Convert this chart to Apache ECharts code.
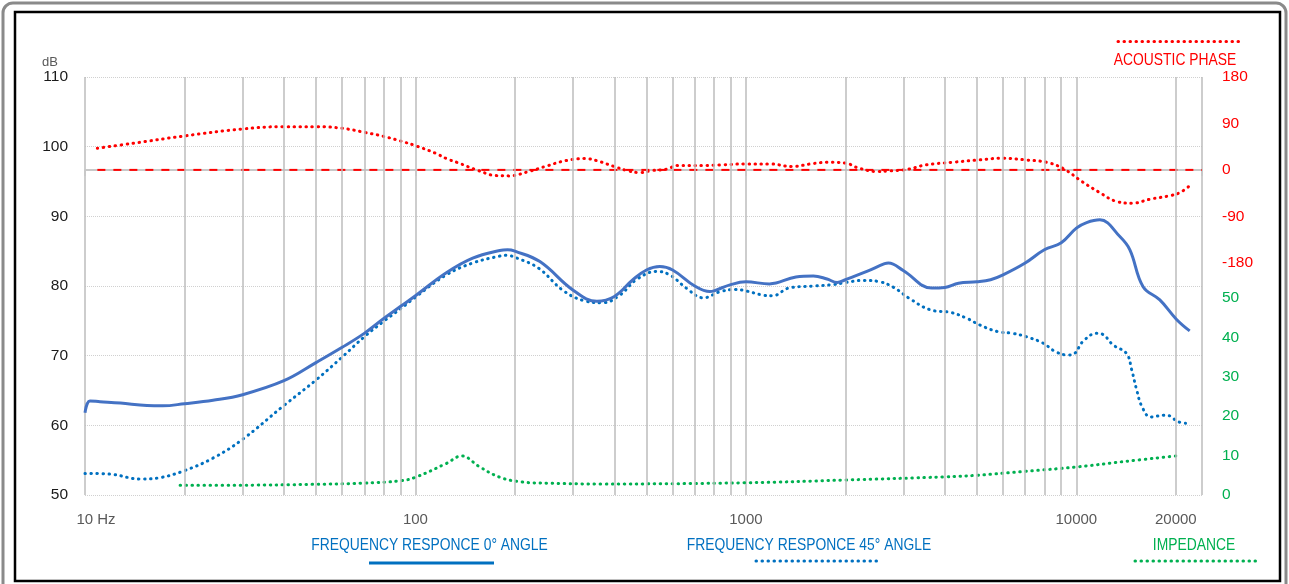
<!DOCTYPE html>
<html><head><meta charset="utf-8">
<script src="https://cdn.jsdelivr.net/npm/echarts@6/dist/echarts.min.js"></script>
<style>html,body{margin:0;padding:0;background:#fff}#c{width:1289px;height:584px}</style>
</head><body><div id="c"></div>
<script>
const NUM_FONT = "'Liberation Sans', Arial, sans-serif";
const TXT_FONT = "'Liberation Sans', Arial, sans-serif";

const xLabelValues = [10, 100, 1000, 10000, 20000];
const minorGridFreqs = [20,30,40,50,60,70,80,90,200,300,400,500,600,700,800,900,2000,3000,4000,5000,6000,7000,8000,9000,20000];

const fr0Freq = [10,10.35,11.1,12.8,15.4,17.2,20,24.4,30,40,50,60,70,80,90,100,124,149,180,190,200,238,300,354,400,455,500,549,600,700,778,800,900,1000,1178,1417,1600,1760,1890,2000,2323,2629,2700,3000,3650,4000,4400,5000,5500,6000,7000,8000,9000,10000,10740,11780,13540,14520,15920,17890,20100,22030];
const fr0Db = [61.8,63.5,63.4,63.2,62.85,62.8,63.1,63.6,64.4,66.4,69.0,71.2,73.2,75.3,77.05,78.6,81.9,84.0,85.1,85.2,85.0,83.5,79.4,77.8,78.5,80.9,82.3,82.8,82.3,80.0,79.2,79.3,80.2,80.6,80.3,81.3,81.45,81.0,80.5,80.9,82.1,83.2,83.3,82.2,79.7,79.8,80.4,80.6,80.9,81.6,83.3,85.2,86.2,88.3,89.1,89.5,87.1,85.2,79.9,78.0,75.2,73.55];

const fr45Freq = [10,11.9,14.7,16.9,20,24.4,30,40,50,60,70,80,90,100,124,149,180,189,203,236,279,323,369,416,466,536,588,660,743,838,934,1000,1125,1207,1346,1600,1835,2000,2260,2545,2800,3128,3602,4167,4643,5105,5771,6420,7076,7933,8630,9393,9867,10450,11500,11960,12910,14190,14700,15220,15790,16770,18500,19400,20100,21400];
const fr45Db = [53.1,53.0,52.3,52.5,53.5,55.3,58.0,62.85,66.5,69.8,72.7,74.9,76.7,78.4,81.6,83.3,84.3,84.4,84.0,82.55,79.4,77.9,77.6,78.7,80.9,82.1,81.6,79.7,78.3,79.2,79.5,79.3,78.7,78.6,79.7,80.0,80.2,80.5,80.8,80.6,79.8,78.2,76.6,76.2,75.4,74.4,73.46,73.2,72.7,71.8,70.6,70.1,70.3,72.0,73.2,73.1,71.55,70.3,68.0,65.1,62.7,61.2,61.45,61.26,60.6,60.3];

const phaseFreq = [10.9,14,20,30,40,50,60,70,80,90,100,115,124,134,155,175,192,220,250,285,326,353,400,437,478,520,575,620,740,840,1010,1180,1380,1570,1770,2010,2200,2500,2730,3100,3500,4230,5100,5950,7000,8200,9200,10400,11700,13200,14800,16700,19300,20600,22000];
const phaseDeg = [42,51.6,65.8,79.3,83.8,83.8,80.6,72.9,65.1,56.1,47,32.3,22,14.2,-1.3,-11,-11.6,-3.2,7.7,18,21.9,18,6.4,-1.3,-5.2,-1.3,1.3,8.4,8.4,9.7,11.6,11.6,6.4,11.6,14.8,12.9,3.2,-3.2,-1.9,1.3,9.7,14.8,19.4,22.6,19.4,14.2,1.3,-22.6,-43,-61,-64.5,-56.8,-49.7,-43.9,-31];

const phaseRefFreq = [10.9, 24000];
const phaseRefDeg = [0, 0];

const impFreq = [19.4,30,49,69,90,100,124,138,156,180,210,250,362,1000,2000,4000,5000,7000,10000,14000,20000];
const impOhm = [2.5,2.5,2.7,3.0,3.6,4.5,8.0,9.9,7.2,4.5,3.3,3.0,2.8,3.1,3.8,4.6,5.0,6.0,7.1,8.5,9.9];

const zip = (a, b) => a.map((v, i) => [v, b[i]]);
const dots = (c) => ({ color: c, width: 3, type: [0.5, 5.5], cap: 'round' });
const legendText = (x, y, text, color) => ({
  type: 'text', x: x, y: y, scaleX: 0.84,
  style: { text: text, fill: color, font: '16.5px ' + TXT_FONT, align: 'center', verticalAlign: 'middle' }
});

const chart = echarts.init(document.getElementById('c'));
chart.setOption({
  backgroundColor: '#fff',
  animation: false,
  grid: { left: 85, right: 87, top: 77, bottom: 89 },
  xAxis: {
    type: 'log', logBase: 10, min: 10, max: 24000,
    axisLine: { show: true, lineStyle: { color: '#c8c8c8', width: 2 } },
    axisTick: { show: true, length: 6, lineStyle: { color: '#c8c8c8', width: 2 } },
    axisLabel: {
      customValues: xLabelValues,
      margin: 17, color: '#595959', fontFamily: NUM_FONT, fontSize: 15,
      formatter: v => v === 10 ? '{h|10 Hz}' : String(v),
      rich: { h: { padding: [0, 0, 0, 22], color: '#595959', fontFamily: NUM_FONT, fontSize: 15 } }
    },
    splitLine: { show: true, lineStyle: { color: '#bdbdbd', width: 1.5 } }
  },
  yAxis: [
    {
      type: 'value', min: 50, max: 110, interval: 10, position: 'left',
      name: 'dB', nameLocation: 'end', nameGap: 8,
      nameTextStyle: { color: '#595959', fontFamily: NUM_FONT, fontSize: 13, align: 'right', padding: [0, 27, 0, 0] },
      axisLine: { show: false }, axisTick: { show: false },
      axisLabel: { margin: 17, color: '#1a1a1a', fontFamily: NUM_FONT, fontSize: 15.5 },
      splitLine: { show: true, lineStyle: { color: '#d0d0d0', width: 1, type: [1, 1] } }
    },
    {
      type: 'value', min: -630, max: 180, interval: 90, position: 'right',
      axisLine: { show: false }, axisTick: { show: false }, splitLine: { show: false },
      axisLabel: { margin: 20, color: '#ff0000', fontFamily: NUM_FONT, fontSize: 15.5,
        formatter: v => (v >= -180 ? String(v) : '') }
    },
    {
      type: 'value', min: 0, max: 106, interval: 10, position: 'right',
      axisLine: { show: false }, axisTick: { show: false }, splitLine: { show: false },
      axisLabel: { margin: 20, color: '#00b050', fontFamily: NUM_FONT, fontSize: 15.5,
        formatter: v => (v <= 50 ? String(v) : '') }
    }
  ],
  series: [
    {
      name: 'grid', type: 'line', z: 1, silent: true, showSymbol: false,
      data: [[10, 50]], lineStyle: { opacity: 0 },
      markLine: {
        silent: true, symbol: 'none', animation: false,
        label: { show: false },
        lineStyle: { color: '#bdbdbd', width: 1.5, type: 'solid' },
        data: minorGridFreqs.map(f => ({ xAxis: f }))
      }
    },
    {
      name: 'phase ref', type: 'line', yAxisIndex: 1, showSymbol: false, z: 3,
      data: zip(phaseRefFreq, phaseRefDeg),
      lineStyle: { color: '#ff0000', width: 2, type: [8, 8] }
    },
    {
      name: 'ACOUSTIC PHASE', type: 'line', yAxisIndex: 1, showSymbol: false, smooth: 0.4, z: 3,
      data: zip(phaseFreq, phaseDeg), lineStyle: dots('#ff0000')
    },
    {
      name: 'IMPEDANCE', type: 'line', yAxisIndex: 2, showSymbol: false, smooth: 0.4, z: 3,
      data: zip(impFreq, impOhm), lineStyle: dots('#00b050')
    },
    {
      name: 'FREQUENCY RESPONCE 45° ANGLE', type: 'line', yAxisIndex: 0, showSymbol: false, smooth: 0.4, z: 4,
      data: zip(fr45Freq, fr45Db), lineStyle: dots('#0070c0')
    },
    {
      name: 'FREQUENCY RESPONCE 0° ANGLE', type: 'line', yAxisIndex: 0, showSymbol: false, smooth: 0.4, z: 5,
      data: zip(fr0Freq, fr0Db), lineStyle: { color: '#4472c4', width: 3 }
    }
  ],
  graphic: [
    { type: 'rect', shape: { x: 3, y: 3, width: 1283, height: 620, r: 10 }, style: { fill: null, stroke: '#8a8a8a', lineWidth: 3 }, silent: true },
    { type: 'rect', shape: { x: 15, y: 12, width: 1265, height: 569 }, style: { fill: null, stroke: '#000', lineWidth: 2.5 }, silent: true },
    { type: 'line', shape: { x1: 1118, y1: 41.5, x2: 1243, y2: 41.5 }, style: { stroke: '#ff0000', lineWidth: 3, lineDash: [0.5, 5.5], lineCap: 'round' } },
    legendText(1175, 60, 'ACOUSTIC PHASE', '#ff0000'),
    legendText(429.5, 545, 'FREQUENCY RESPONCE 0° ANGLE', '#0070c0'),
    { type: 'line', shape: { x1: 369, y1: 563, x2: 494, y2: 563 }, style: { stroke: '#0070c0', lineWidth: 3 } },
    legendText(809, 545, 'FREQUENCY RESPONCE 45° ANGLE', '#0070c0'),
    { type: 'line', shape: { x1: 756, y1: 561, x2: 879, y2: 561 }, style: { stroke: '#0070c0', lineWidth: 3, lineDash: [0.5, 5.5], lineCap: 'round' } },
    legendText(1194, 545, 'IMPEDANCE', '#00b050'),
    { type: 'line', shape: { x1: 1135, y1: 561, x2: 1258, y2: 561 }, style: { stroke: '#00b050', lineWidth: 3, lineDash: [0.5, 5.5], lineCap: 'round' } }
  ]
});
</script>
</body></html>
